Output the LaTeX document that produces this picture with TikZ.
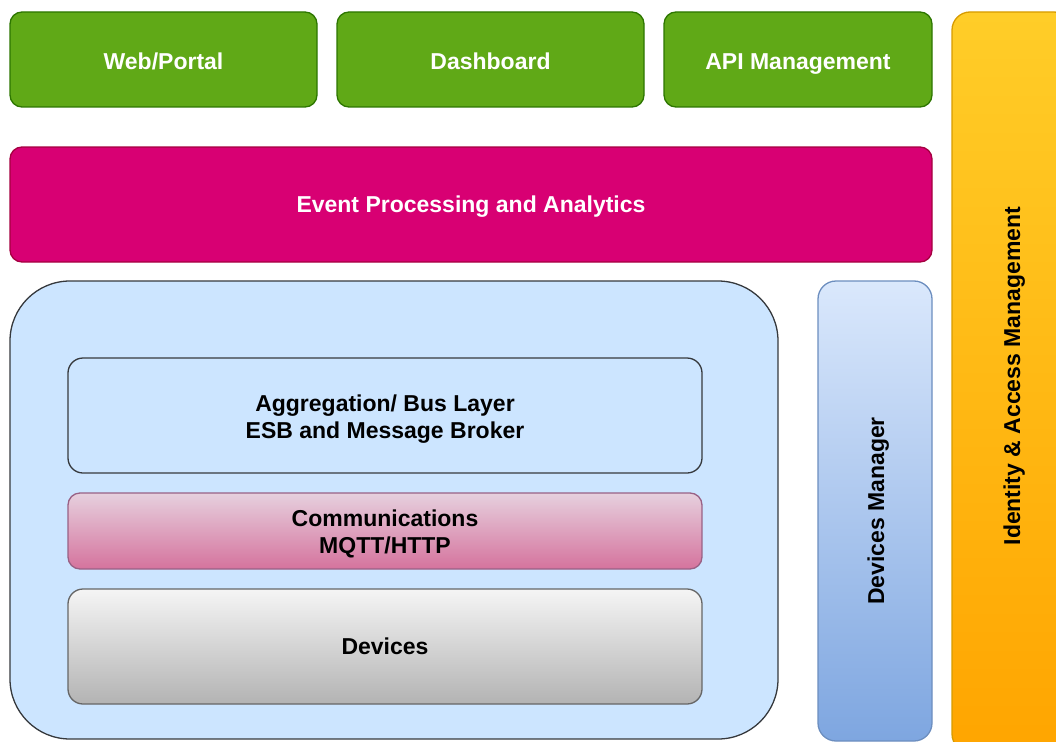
\documentclass[tikz,border=0pt]{standalone}
\usepackage{fontspec}
\setmainfont{Liberation Sans}
\definecolor{greenfill}{HTML}{60A917}
\definecolor{greenline}{HTML}{2D7600}
\definecolor{pinkfill}{HTML}{D80073}
\definecolor{pinkline}{HTML}{A50040}
\definecolor{corefill}{HTML}{CCE5FF}
\definecolor{coreline}{HTML}{36393D}
\definecolor{mgrtop}{HTML}{DAE8FC}
\definecolor{mgrbot}{HTML}{7EA6E0}
\definecolor{mgrline}{HTML}{6C8EBF}
\definecolor{idtop}{HTML}{FFCD28}
\definecolor{idbot}{HTML}{FFA500}
\definecolor{idline}{HTML}{D79B00}
\definecolor{comtop}{HTML}{E6D0DE}
\definecolor{combot}{HTML}{D5739D}
\definecolor{comline}{HTML}{996185}
\definecolor{devtop}{HTML}{F5F5F5}
\definecolor{devbot}{HTML}{B3B3B3}
\definecolor{devline}{HTML}{666666}
\begin{document}
\begin{tikzpicture}[x=1pt,y=-1pt,
  lbl/.style={inner sep=0pt, align=center, font=\bfseries\fontsize{23}{27}\selectfont},
  oneline/.style={lbl, text height=20.7pt, text depth=4.3pt},
  box/.style={draw, line width=1.3pt, rounded corners=12pt, inner sep=0pt},
  topbox/.style={box, fill=greenfill, draw=greenline, minimum width=307pt, minimum height=95pt},
  layer/.style={box, draw=coreline, minimum width=634pt},
]
\useasboundingbox (0,0) rectangle (1056,741);
\begin{scope}
\clip (0,0) rectangle (1056,741);
% top row of applications
\node[topbox] (web) at (163.5,59.5) {};
\node[oneline, text=white, yshift=-1.5pt] (webtext) at (web.center) {Web/Portal};
\node[topbox] (dash) at (490.5,59.5) {};
\node[oneline, text=white, yshift=-1.5pt] (dashtext) at (dash.center) {Dashboard};
\node[topbox, minimum width=268pt] (api) at (798,59.5) {};
\node[oneline, text=white, yshift=-1.5pt] (apitext) at (api.center) {API Management};
% analytics band
\node[box, fill=pinkfill, draw=pinkline, minimum width=922pt, minimum height=115pt] (event) at (471,204.5) {};
\node[oneline, text=white] (eventtext) at (event.center) {Event Processing and Analytics};
% identity column on the right
\node[box, draw=idline, top color=idtop, bottom color=idbot, rounded corners=18pt,
  minimum width=120pt, minimum height=740pt] (iam) at (1012,382) {};
\node[oneline, rotate=90] (iamtext) at (1012,376) {Identity \& Access Management};
% device manager column
\node[box, draw=mgrline, top color=mgrtop, bottom color=mgrbot, rounded corners=18pt,
  minimum width=114pt, minimum height=460pt] (mgr) at (875,511) {};
\node[oneline, rotate=90] (mgrtext) at (876,511) {Devices Manager};
% core stack
\node[box, fill=corefill, draw=coreline, rounded corners=60pt,
  minimum width=768pt, minimum height=458pt] (core) at (394,510) {};
\node[layer, fill=corefill, minimum height=115pt, rounded corners=15pt] (agg) at (385,415.5) {};
\node[lbl, yshift=-3.5pt] (aggtext) at (agg.center) {Aggregation/ Bus Layer\\ESB and Message Broker};
\node[layer, draw=comline, top color=comtop, bottom color=combot, minimum height=76pt, rounded corners=12pt] (com) at (385,531) {};
\node[lbl, yshift=-2.5pt] (comtext) at (com.center) {Communications\\MQTT/HTTP};
\node[layer, draw=devline, top color=devtop, bottom color=devbot, minimum height=115pt, rounded corners=15pt] (dev) at (385,646.5) {};
\node[oneline] (devtext) at (dev.center) {Devices};
\end{scope}
\end{tikzpicture}
\end{document}
